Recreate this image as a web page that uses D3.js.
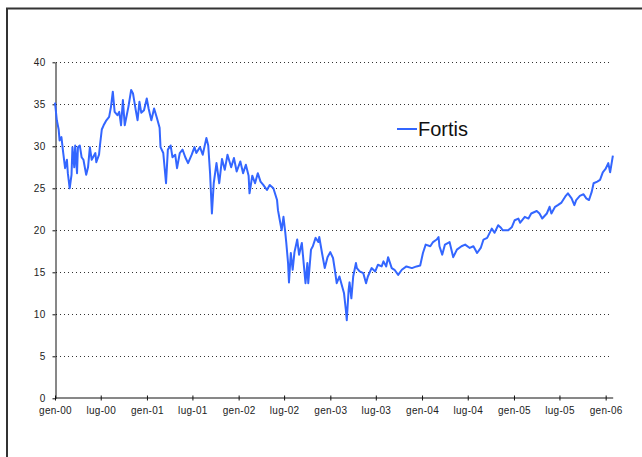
<!DOCTYPE html>
<html>
<head>
<meta charset="utf-8">
<script src="https://cdn.jsdelivr.net/npm/d3@7"></script>
<style>
  body { margin: 0; background: #fff; }
  svg { display: block; }
  .axis text { font-family: "Liberation Sans", Arial, sans-serif; font-size: 10px; fill: #222; }
  .grid line { stroke: #333; stroke-dasharray: 1,3; }
</style>
</head>
<body>
<svg width="642" height="457"></svg>
<script>
// Fortis share price (time in years after 1 Jan 2000)
var years = [0.00,0.02,0.04,0.05,0.07,0.09,0.11,0.13,0.14,0.16,0.18,0.19,0.21,0.22,0.24,0.25,0.27,0.29,0.31,0.34,
  0.36,0.38,0.40,0.44,0.45,0.48,0.49,0.51,0.53,0.56,0.59,0.61,0.63,0.65,0.68,0.70,0.72,0.74,0.76,0.80,
  0.83,0.85,0.88,0.90,0.92,0.94,0.97,1.00,1.02,1.05,1.08,1.11,1.14,1.15,1.18,1.21,1.23,1.26,1.28,1.31,
  1.33,1.36,1.39,1.42,1.45,1.49,1.52,1.54,1.58,1.61,1.65,1.67,1.69,1.71,1.73,1.76,1.79,1.82,1.85,1.88,
  1.92,1.95,1.98,2.02,2.05,2.08,2.11,2.12,2.15,2.18,2.21,2.24,2.27,2.31,2.34,2.38,2.42,2.43,2.45,2.47,
  2.49,2.51,2.52,2.54,2.55,2.57,2.59,2.61,2.64,2.66,2.69,2.71,2.73,2.75,2.76,2.79,2.81,2.84,2.87,2.88,
  2.91,2.94,2.97,3.00,3.03,3.05,3.07,3.10,3.12,3.15,3.17,3.18,3.20,3.21,3.23,3.25,3.28,3.29,3.32,3.36,
  3.39,3.41,3.45,3.49,3.52,3.56,3.58,3.61,3.63,3.67,3.70,3.74,3.78,3.83,3.89,3.94,3.98,4.01,4.04,4.09,
  4.12,4.16,4.18,4.19,4.22,4.25,4.30,4.34,4.38,4.43,4.47,4.52,4.56,4.60,4.64,4.67,4.71,4.76,4.79,4.83,
  4.86,4.88,4.94,4.98,5.01,5.05,5.07,5.12,5.16,5.19,5.25,5.28,5.31,5.36,5.39,5.41,5.45,5.48,5.52,5.56,
  5.59,5.63,5.66,5.68,5.72,5.76,5.79,5.82,5.85,5.87,5.91,5.94,5.97,6.00,6.03,6.05,6.08];
var prices = [35.2,33.1,32.0,30.7,31.1,29.2,27.4,28.4,26.8,25.0,26.6,29.9,27.5,30.1,26.8,29.9,30.1,28.7,28.4,26.6,
  27.5,29.9,28.4,29.2,28.1,29.0,30.1,32.0,32.5,33.1,33.5,34.7,36.5,34.1,33.7,34.1,32.5,35.5,32.5,34.7,
  36.7,36.3,34.3,33.1,35.3,34.0,34.3,35.7,34.5,33.1,34.5,33.4,32.2,29.9,29.2,25.6,29.6,30.1,28.7,29.0,
  27.4,29.2,29.6,28.7,28.0,29.0,29.9,29.2,29.9,29.0,31.0,30.1,26.8,22.0,25.6,28.0,25.6,28.5,27.2,29.0,
  27.5,28.6,27.0,28.2,26.8,27.8,26.5,24.4,26.5,25.6,26.8,25.8,25.4,24.8,25.4,25.0,23.6,22.4,21.2,20.0,
  21.6,19.7,18.6,16.1,13.8,17.3,15.3,17.4,18.9,17.1,18.5,16.1,13.7,16.1,13.7,17.7,18.1,19.1,18.6,19.2,
  17.3,15.5,16.8,17.4,16.7,15.3,13.7,14.5,13.7,12.5,10.5,9.3,12.9,13.8,11.9,14.5,16.1,15.5,15.1,14.9,
  13.7,14.5,15.5,15.1,15.9,15.7,16.3,15.7,16.8,15.5,15.3,14.7,15.3,15.7,15.5,15.7,15.8,17.3,18.3,18.1,
  18.6,18.9,19.2,18.1,17.1,18.3,18.6,16.8,17.7,18.1,18.3,17.9,18.1,17.3,17.9,18.9,19.1,20.2,19.7,20.6,
  20.3,20.0,20.0,20.4,21.2,21.4,20.9,21.6,21.4,22.0,22.3,22.0,21.4,22.0,22.8,22.0,22.8,23.0,23.3,24.0,
  24.4,23.8,23.0,23.6,24.1,24.3,23.8,23.6,24.6,25.6,25.8,26.0,26.9,27.3,28.0,26.9,28.9];
var yTicks = [0, 5, 10, 15, 20, 25, 30, 35, 40];
var monthNames = ["gen", "feb", "mar", "apr", "mag", "giu", "lug", "ago", "set", "ott", "nov", "dic"];
var seriesName = "Fortis";

var svg = d3.select("svg");
var t0 = new Date(2000, 0, 1).getTime();
var data = years.map(function(y, i) {
  return { date: new Date(t0 + y * 365.25 * 864e5), value: prices[i] };
});

// frame (top and left edges only)
svg.append("path")
  .attr("d", "M7,457V8.5H642")
  .attr("fill", "none")
  .attr("stroke", "#333")
  .attr("stroke-width", 2);

var x = d3.scaleTime()
  .domain([new Date(2000, 0, 1), new Date(2006, 0, 29)])
  .range([55, 612.7]);

var y = d3.scaleLinear()
  .domain([0, 40])
  .range([398.3, 62.3]);

// dotted gridlines
svg.append("g")
  .attr("class", "grid")
  .selectAll("line")
  .data(yTicks.filter(function(d) { return d > 0; }))
  .enter().append("line")
  .attr("x1", 56).attr("x2", 611)
  .attr("y1", function(d) { return Math.round(y(d)) + 0.5; })
  .attr("y2", function(d) { return Math.round(y(d)) + 0.5; });

var xAxis = d3.axisBottom(x)
  .ticks(d3.timeMonth.every(6))
  .tickSizeInner(3)
  .tickSizeOuter(0)
  .tickPadding(6)
  .tickFormat(function(d) { return monthNames[d.getMonth()] + "-" + d3.timeFormat("%y")(d); });

var gx = svg.append("g")
  .attr("class", "axis")
  .attr("transform", "translate(0," + (Math.round(y(0)) - 0.5) + ")")
  .call(xAxis);
gx.selectAll(".tick line").attr("y1", -2);

var gy = svg.append("g")
  .attr("class", "axis")
  .attr("transform", "translate(55.5,0)")
  .call(d3.axisLeft(y).tickValues(yTicks).tickSizeInner(3).tickSizeOuter(0).tickPadding(7));

svg.selectAll(".axis path, .axis line").attr("stroke", "#111");
svg.selectAll(".axis text").attr("letter-spacing", "0.3px");

var line = d3.line()
  .x(function(d) { return x(d.date); })
  .y(function(d) { return y(d.value); });

svg.append("path")
  .datum(data)
  .attr("fill", "none")
  .attr("stroke", "#3366FF")
  .attr("stroke-width", 2)
  .attr("stroke-linejoin", "round")
  .attr("d", line);

// legend
var legend = svg.append("g").attr("transform", "translate(397,129)");
legend.append("line")
  .attr("x1", 0).attr("x2", 20)
  .attr("stroke", "#3366FF").attr("stroke-width", 2);
legend.append("text")
  .attr("x", 21).attr("y", 7)
  .attr("font-family", "Liberation Sans, Arial, sans-serif")
  .attr("font-size", 20)
  .attr("fill", "#111")
  .text(seriesName);
</script>
</body>
</html>
